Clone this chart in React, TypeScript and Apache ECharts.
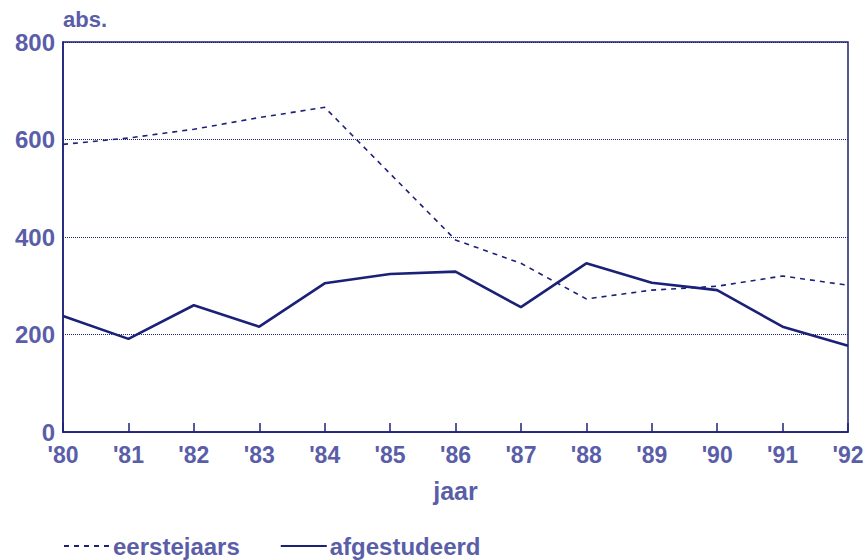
import React, { useEffect, useRef } from "react";
import * as echarts from "echarts";

const years = ["'80", "'81", "'82", "'83", "'84", "'85", "'86", "'87", "'88", "'89", "'90", "'91", "'92"];
const eerstejaars = [590, 603, 621, 645, 666, 530, 394, 346, 273, 291, 299, 320, 301];
const afgestudeerd = [238, 191, 260, 216, 305, 324, 329, 256, 346, 306, 291, 216, 177];
const yTicks = [0, 200, 400, 600, 800];

const TEXT = "#5a5ea8";
const NAVY = "#1c2178";
const FONT = "'Liberation Sans', Arial, sans-serif";

export default function App() {
  const ref = useRef<HTMLDivElement>(null);
  useEffect(() => {
    if (!ref.current) return;
    const chart = echarts.init(ref.current, undefined, { renderer: "svg" });
    chart.setOption({
      animation: false,
      backgroundColor: "#ffffff",
      grid: {
        left: 63,
        right: 19,
        top: 42,
        bottom: 128,
        show: true,
        borderColor: NAVY,
        borderWidth: 1.5,
      },
      legend: {
        left: 58,
        bottom: -3,
        itemWidth: 46,
        itemHeight: 14,
        itemGap: 40,
        itemStyle: { opacity: 0 },
        textStyle: { color: TEXT, fontSize: 24, fontWeight: "bold", fontFamily: FONT, padding: [0, 0, 0, -2] },
        data: ["eerstejaars", "afgestudeerd"],
      },
      xAxis: {
        type: "category",
        data: years,
        boundaryGap: false,
        name: "jaar",
        nameLocation: "middle",
        nameGap: 46,
        nameTextStyle: { color: TEXT, fontSize: 25, fontWeight: "bold", fontFamily: FONT },
        axisLine: { lineStyle: { color: NAVY, width: 1.5 } },
        axisTick: { inside: true, length: 9, lineStyle: { color: NAVY, width: 1.5 } },
        axisLabel: { color: TEXT, fontSize: 23, fontWeight: "bold", fontFamily: FONT, margin: 11 },
        splitLine: { show: false },
      },
      yAxis: {
        type: "value",
        min: yTicks[0],
        max: yTicks[yTicks.length - 1],
        interval: 200,
        name: "abs.",
        nameLocation: "end",
        nameGap: 12,
        nameTextStyle: { color: TEXT, fontSize: 22, fontWeight: "bold", fontFamily: FONT, align: "left" },
        axisLine: { show: true, lineStyle: { color: NAVY, width: 1.5 } },
        axisTick: { show: false },
        axisLabel: { color: TEXT, fontSize: 24, fontWeight: "bold", fontFamily: FONT, margin: 8 },
        splitLine: { show: true, lineStyle: { color: NAVY, type: "dotted", width: 1 } },
      },
      series: [
        {
          name: "eerstejaars",
          type: "line",
          data: eerstejaars,
          symbol: "none",
          color: NAVY,
          lineStyle: { color: NAVY, width: 1.6, type: [5, 5] },
        },
        {
          name: "afgestudeerd",
          type: "line",
          data: afgestudeerd,
          symbol: "none",
          color: NAVY,
          lineStyle: { color: NAVY, width: 2.6 },
        },
      ],
    });
    return () => chart.dispose();
  }, []);
  return <div ref={ref} style={{ position: "absolute", left: 0, top: 0, width: 867, height: 560 }} />;
}
